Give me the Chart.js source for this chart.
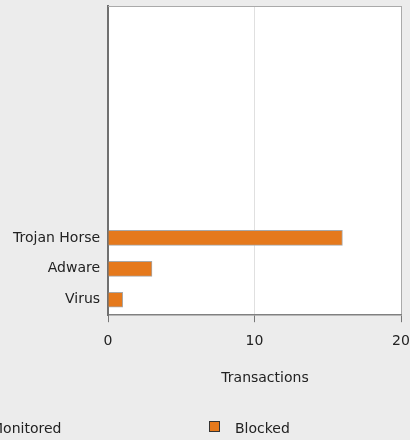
<!DOCTYPE html>
<html>
<head>
<meta charset="utf-8">
<script src="https://cdn.jsdelivr.net/npm/chart.js@4"></script>
<style>
  body { margin: 0; background: #ececec; overflow: hidden; font-family: "DejaVu Sans"; }
  #wrap { position: relative; width: 410px; height: 440px; }
  .lg-box { position: absolute; width: 9px; height: 9px; border: 1px solid #333; }
  .lg-text { position: absolute; font-size: 14px; line-height: 16px; color: #222; white-space: nowrap; }
  #xTitle { position: absolute; left: 165px; width: 200px; top: 369px; text-align: center; font-size: 14px; line-height: 16px; color: #222; }
</style>
</head>
<body>
<div id="wrap">
  <canvas id="malwareChart" width="410" height="440"></canvas>
  <div id="xTitle"></div>
</div>
<script>
// data
var categories = ['', '', '', '', '', '', '', 'Trojan Horse', 'Adware', 'Virus'];
var blocked = [null, null, null, null, null, null, null, 16, 3, 1];
var seriesNames = ['Monitored', 'Blocked'];
var seriesColors = ['#4a7ebb', '#e5791c'];
var xTicks = [0, 10, 20];
var xTitle = 'Transactions';

Chart.defaults.font.family = 'DejaVu Sans';
Chart.defaults.font.size = 14;
Chart.defaults.color = '#222';

// white plot area + top border
var plotFrame = {
    id: 'plotFrame',
    beforeDraw: function (chart) {
        var ctx = chart.ctx, a = chart.chartArea;
        ctx.save();
        ctx.fillStyle = '#ffffff';
        ctx.fillRect(a.left, a.top, a.right - a.left, a.bottom - a.top);
        ctx.restore();
    },
    beforeDatasetsDraw: function (chart) {
        var ctx = chart.ctx, a = chart.chartArea;
        ctx.save();
        ctx.strokeStyle = '#aaaaaa';
        ctx.lineWidth = 1;
        ctx.beginPath();
        ctx.moveTo(a.left, a.top + 0.5);
        ctx.lineTo(a.right, a.top + 0.5);
        ctx.stroke();
        ctx.restore();
    }
}

var config_Malware = {
    type: 'bar',
    data: {
        labels: categories,
        datasets: [{
            label: seriesNames[1],
            data: blocked,
            backgroundColor: seriesColors[1],
            borderColor: '#a8a8a8',
            borderWidth: 1,
            barThickness: 15
        }]
    },
    plugins: [plotFrame],
    options: {
        indexAxis: 'y',
        responsive: false,
        animation: false,
        layout: {
            padding: { top: 6, right: 9, bottom: 79, left: 5 }
        },
        plugins: {
            legend: { display: false },
            tooltip: { enabled: false }
        },
        scales: {
            x: {
                min: xTicks[0],
                max: xTicks[xTicks.length - 1],
                afterBuildTicks: function (scale) {
                    scale.ticks = xTicks.map(function (v) { return { value: v }; });
                },
                // let the "20" label run off the right edge like the original
                afterFit: function (scale) {
                    scale.paddingLeft = 0;
                    scale.paddingRight = 0;
                },
                grid: {
                    color: function (c) {
                        if (c.tick && c.tick.value === 10) return '#e0e0e0';
                        if (c.tick && c.tick.value === 20) return '#aaaaaa';
                        return 'rgba(0,0,0,0)';
                    },
                    tickColor: '#777777',
                    tickLength: 7
                },
                border: { color: '#808080', width: 1.5 },
                ticks: { padding: 11 }
            },
            y: {
                afterFit: function (scale) {
                    scale.paddingTop = 0;
                    scale.paddingBottom = 0;
                },
                grid: { display: true, color: 'rgba(0,0,0,0)', drawTicks: false },
                border: { color: '#707070', width: 2 },
                ticks: { padding: 8 }
            }
        }
    }
}

var MalwareChartElement = document.getElementById('malwareChart').getContext('2d');
var MalwareChart = new Chart(MalwareChartElement, config_Malware);

document.getElementById('xTitle').textContent = xTitle;

// legend below the chart (wider than the window, left entry is cut off)
var legendPos = [{ box: -35, text: -9 }, { box: 209, text: 235 }];
var wrap = document.getElementById('wrap');
for (var i = 0; i < seriesNames.length; i++) {
    var box = document.createElement('div');
    box.className = 'lg-box';
    box.style.left = legendPos[i].box + 'px';
    box.style.top = '421px';
    box.style.background = seriesColors[i];
    wrap.appendChild(box);
    var txt = document.createElement('div');
    txt.className = 'lg-text';
    txt.style.left = legendPos[i].text + 'px';
    txt.style.top = '420px';
    txt.textContent = seriesNames[i];
    wrap.appendChild(txt);
}
</script>
</body>
</html>
